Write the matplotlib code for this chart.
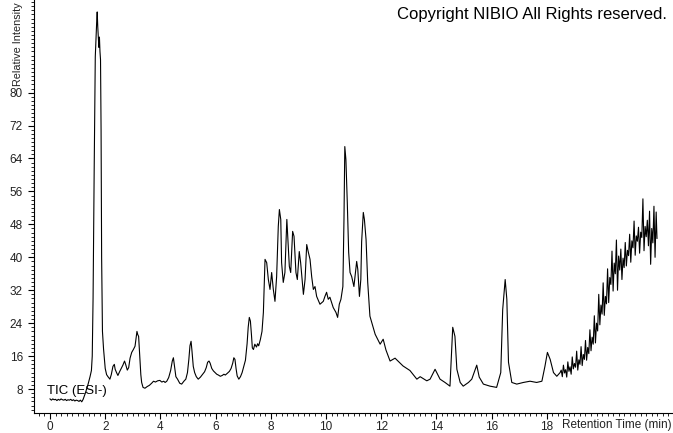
import matplotlib
matplotlib.use("Agg")
import matplotlib.pyplot as plt
from matplotlib.ticker import MultipleLocator, FixedLocator

plt.rcParams['font.family'] = ['Liberation Sans', 'DejaVu Sans']

# --- data (time in min, relative intensity in %) --- #
# baseline + big peak near 1.7 min
t_early = [0.00, 0.05, 0.10, 0.15, 0.20, 0.25, 0.30, 0.35, 0.40, 0.45, 0.50, 0.55,
           0.60, 0.65, 0.70, 0.75, 0.80, 0.85, 0.90, 0.95, 1.00, 1.05, 1.10, 1.15,
           1.20, 1.28, 1.38, 1.45, 1.50, 1.53, 1.56, 1.60, 1.64, 1.67, 1.69, 1.71,
           1.73, 1.75, 1.77, 1.79, 1.81, 1.83, 1.85, 1.87, 1.90, 1.94, 2.00, 2.05,
           2.10, 2.17, 2.22, 2.28, 2.33, 2.36, 2.41, 2.46, 2.52, 2.58, 2.64, 2.70,
           2.74, 2.80, 2.85, 2.90, 2.96, 3.02, 3.08, 3.12, 3.15, 3.18, 3.21, 3.24,
           3.26, 3.29, 3.32, 3.37]
i_early = [5.6, 5.3, 5.6, 5.4, 5.5, 5.2, 5.5, 5.3, 5.6, 5.4, 5.3, 5.5,
           5.2, 5.4, 5.3, 5.5, 5.2, 5.4, 5.1, 5.3, 5.2, 5.0, 5.3, 4.9,
           5.5, 7.0, 9.2, 11.0, 12.5, 16.0, 30.0, 61.0, 88.7, 94.0, 97.0, 99.6,
           96.0, 93.3, 91.0, 93.5, 90.0, 88.0, 71.0, 40.0, 22.0, 17.7, 13.0, 11.5,
           11.0, 10.4, 11.5, 13.5, 14.0, 12.8, 12.0, 11.3, 12.2, 13.0, 13.8, 14.8,
           14.0, 12.6, 13.2, 15.5, 16.9, 17.6, 18.4, 20.5, 22.0, 21.2, 20.8, 17.5,
           15.0, 11.5, 9.6, 8.4]

# small peaks 3.4 - 7.7 min
t_mid = [3.44, 3.52, 3.60, 3.68, 3.75, 3.82, 3.90, 3.98, 4.05, 4.12, 4.17, 4.23,
         4.30, 4.37, 4.43, 4.47, 4.51, 4.56, 4.62, 4.70, 4.77, 4.85, 4.92, 4.98,
         5.03, 5.07, 5.11, 5.14, 5.19, 5.24, 5.30, 5.37, 5.45, 5.52, 5.60, 5.66,
         5.71, 5.76, 5.80, 5.86, 5.92, 5.98, 6.04, 6.10, 6.17, 6.24, 6.30, 6.35,
         6.42, 6.50, 6.56, 6.62, 6.66, 6.70, 6.74, 6.78, 6.84, 6.90, 6.96, 7.02,
         7.08, 7.14, 7.18, 7.22, 7.26, 7.30, 7.33, 7.37, 7.42, 7.48, 7.52, 7.56,
         7.62, 7.68]
i_mid = [8.2, 8.6, 8.9, 9.4, 9.9, 9.7, 10.0, 10.1, 9.7, 9.9, 9.6, 9.9,
         10.8, 12.5, 14.8, 15.6, 13.5, 11.0, 10.4, 9.4, 9.2, 9.9, 10.4, 12.0,
         15.2, 18.5, 19.6, 17.5, 13.5, 12.0, 11.0, 10.4, 10.9, 11.5, 12.2, 13.2,
         14.5, 14.8, 14.3, 13.0, 12.4, 12.0, 11.6, 11.4, 11.1, 11.3, 11.6, 11.4,
         11.8, 12.3, 13.0, 14.3, 15.6, 15.2, 13.0, 11.2, 10.4, 11.0, 12.0, 13.5,
         15.0, 19.0, 23.0, 25.4, 24.5, 21.0, 18.0, 17.6, 18.9, 18.2, 19.0, 18.5,
         20.0, 22.0]

# cluster 7.7 - 11.6 min
t_cluster = [7.73, 7.79, 7.85, 7.91, 7.97, 8.03, 8.09, 8.15, 8.21, 8.27, 8.31, 8.36,
             8.39, 8.45, 8.51, 8.58, 8.61, 8.67, 8.72, 8.79, 8.84, 8.91, 8.96, 9.03,
             9.08, 9.18, 9.24, 9.30, 9.36, 9.42, 9.48, 9.54, 9.60, 9.66, 9.78, 9.90,
             9.96, 10.02, 10.08, 10.14, 10.26, 10.36, 10.42, 10.48, 10.54, 10.61, 10.65, 10.68,
             10.72, 10.77, 10.82, 10.87, 10.93, 11.01, 11.11, 11.15, 11.21, 11.26, 11.29, 11.35,
             11.39, 11.45, 11.51, 11.59]
i_cluster = [26.6, 39.5, 38.7, 34.6, 32.2, 36.3, 32.2, 29.3, 35.3, 47.5, 51.6, 49.2,
             38.7, 33.9, 36.3, 49.2, 45.5, 37.8, 36.3, 46.3, 45.1, 36.3, 34.6, 41.4,
             38.7, 31.0, 34.6, 43.1, 41.2, 39.5, 35.3, 32.2, 32.9, 30.5, 28.6, 29.3,
             30.5, 31.5, 29.8, 30.3, 27.8, 26.6, 25.4, 28.6, 29.8, 32.9, 49.2, 66.9,
             63.7, 53.3, 41.2, 36.3, 35.3, 32.9, 39.0, 37.1, 30.5, 34.6, 43.8, 50.9,
             49.2, 44.3, 33.9, 25.7]

# tail 11.8 - 18.5 min
t_late = [11.78, 11.96, 12.07, 12.17, 12.32, 12.50, 12.79, 13.04, 13.29, 13.41, 13.65, 13.77,
          13.95, 14.13, 14.31, 14.49, 14.59, 14.67, 14.74, 14.86, 14.97, 15.16, 15.28, 15.46,
          15.55, 15.70, 15.94, 16.18, 16.33, 16.40, 16.49, 16.55, 16.61, 16.73, 16.91, 17.15,
          17.39, 17.63, 17.82, 17.93, 18.02, 18.12, 18.24, 18.36, 18.48]
i_late = [21.3, 18.9, 20.1, 17.5, 14.8, 15.5, 13.6, 12.5, 10.4, 11.0, 10.0, 10.4,
          12.8, 10.4, 9.6, 8.7, 23.0, 20.8, 12.8, 9.6, 8.7, 9.6, 10.4, 13.8,
          10.9, 9.2, 8.7, 8.4, 12.0, 27.3, 34.6, 29.8, 14.5, 9.6, 9.2, 9.6,
          9.9, 9.6, 9.9, 13.5, 16.9, 15.2, 12.0, 11.1, 12.0]

# noisy gradient end 18.5 - 22 min
t_ramp = [18.52, 18.56, 18.60, 18.64, 18.68, 18.72, 18.76, 18.80, 18.84, 18.88, 18.92, 18.96,
          19.00, 19.04, 19.08, 19.12, 19.16, 19.20, 19.24, 19.28, 19.32, 19.36, 19.40, 19.44,
          19.48, 19.52, 19.56, 19.60, 19.64, 19.68, 19.72, 19.76, 19.80, 19.84, 19.88, 19.92,
          19.96, 20.00, 20.04, 20.08, 20.12, 20.16, 20.20, 20.24, 20.28, 20.32, 20.36, 20.40,
          20.44, 20.48, 20.52, 20.56, 20.60, 20.64, 20.68, 20.72, 20.76, 20.80, 20.84, 20.88,
          20.92, 20.96, 21.00, 21.04, 21.08, 21.12, 21.16, 21.20, 21.24, 21.28, 21.32, 21.36,
          21.40, 21.44, 21.48, 21.52, 21.56, 21.60, 21.64, 21.68, 21.72, 21.76, 21.80, 21.84,
          21.88, 21.92, 21.96, 21.99]
i_ramp = [12.6, 11.0, 13.8, 11.9, 12.7, 10.9, 14.6, 12.3, 13.4, 11.6, 15.8, 12.9,
          14.2, 13.3, 17.2, 12.6, 15.1, 14.0, 18.3, 13.7, 16.4, 15.2, 19.8, 15.0,
          18.1, 16.6, 22.4, 17.3, 20.6, 18.9, 25.8, 19.2, 24.0, 22.1, 31.0, 23.6,
          28.4, 26.2, 33.8, 25.9, 30.5, 28.7, 37.2, 29.0, 35.1, 33.4, 41.5, 31.8,
          38.6, 36.0, 44.2, 32.0, 40.3, 36.9, 42.0, 34.6, 39.8, 37.5, 43.6, 37.9,
          41.7, 40.4, 45.6, 38.8, 44.0, 42.3, 48.8, 40.5, 45.2, 43.9, 47.3, 41.0,
          46.1, 44.8, 54.2, 41.6, 47.5, 45.0, 49.0, 42.8, 51.2, 38.3, 47.0, 43.5,
          52.4, 40.0, 51.0, 44.6]

time_min = t_early + t_mid + t_cluster + t_late + t_ramp
intensity = i_early + i_mid + i_cluster + i_late + i_ramp

y_ticks = [8, 16, 24, 32, 40, 48, 56, 64, 72, 80]
x_ticks = [0, 2, 4, 6, 8, 10, 12, 14, 16, 18]

# --- figure --- #
fig = plt.figure(figsize=(6.73, 4.33), dpi=100)
ax = fig.add_axes([34 / 673, 1 - 413 / 433, 1 - 34 / 673, 413 / 433])

ax.plot(time_min, intensity, color='black', lw=0.8)

ax.set_xlim(-0.58, 22.57)
ax.set_ylim(2.18, 102.5)

for s in ['top', 'right']:
    ax.spines[s].set_visible(False)
for s in ['left', 'bottom']:
    ax.spines[s].set_linewidth(0.8)

ax.xaxis.set_major_locator(FixedLocator(x_ticks))
ax.xaxis.set_minor_locator(MultipleLocator(0.2))
ax.yaxis.set_major_locator(FixedLocator(y_ticks))
ax.yaxis.set_minor_locator(MultipleLocator(1))
ax.tick_params(which='major', length=4, width=0.8, labelsize=8.5, labelcolor='#222222', pad=1.5)
ax.tick_params(which='minor', length=2.5, width=0.6)
ax.tick_params(axis='y', which='major', pad=4)

# y label sits in the top-left corner, like the instrument export
fig.text(18 / 673, 1 - 2 / 433, "Relative Intensity", rotation=90, ha='center', va='top',
         fontsize=7.8, color='#222222')
fig.text(672 / 673, 1 - 425 / 433, "Retention Time (min)", ha='right', va='center',
         fontsize=8.5, color='#222222')
fig.text(47 / 673, 1 - 391 / 433, "TIC (ESI-)", ha='left', va='center', fontsize=9.5, color='black')
fig.text(667 / 673, 1 - 15 / 433, "Copyright NIBIO All Rights reserved.", ha='right', va='center',
         fontsize=12, color='black')

fig.savefig("out.png", dpi=100)
